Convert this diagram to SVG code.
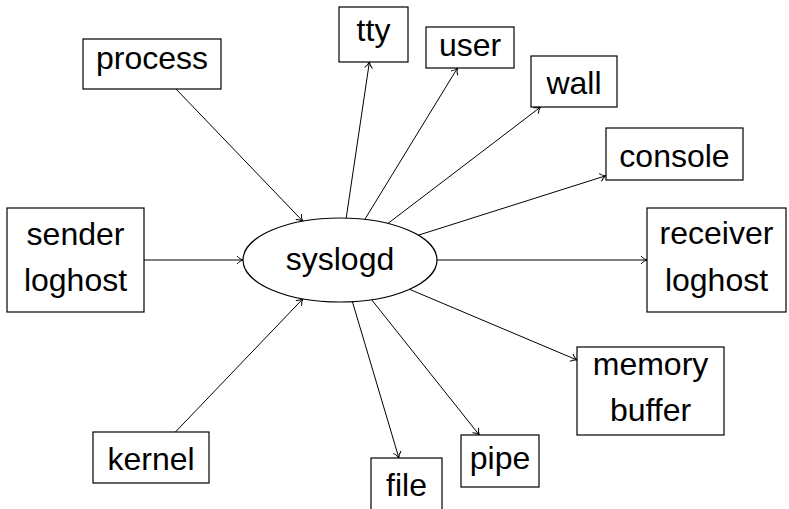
<svg xmlns="http://www.w3.org/2000/svg" width="789" height="509" viewBox="0 0 789 509">
<defs>
<style>
.box{fill:#fff;stroke:#000;stroke-width:1.2}
.t{font-family:"Liberation Sans",Arial,sans-serif;font-size:32px;fill:#000;text-anchor:middle}
.e{stroke:#000;stroke-width:1;fill:none;marker-end:url(#arr)}
</style>
<marker id="arr" viewBox="-8 -6 10 12" refX="0" refY="0" markerWidth="10" markerHeight="12" orient="auto" markerUnits="userSpaceOnUse" overflow="visible">
<path d="M-6,-4 C-4,-1.5 -1,-0.3 0,0 C-1,0.3 -4,1.5 -6,4" fill="none" stroke="#000" stroke-width="1"/>
</marker>
</defs>
<rect width="789" height="509" fill="#fff"/>
<g id="connectors">
<line class="e" x1="176" y1="89" x2="302.8" y2="221.2"/>
<line class="e" x1="144" y1="260" x2="243" y2="260"/>
<line class="e" x1="175.4" y1="432" x2="302.9" y2="298.8"/>
<line class="e" x1="346.2" y1="218.1" x2="369.4" y2="62"/>
<line class="e" x1="364.8" y1="219.4" x2="457.5" y2="68"/>
<line class="e" x1="387.9" y1="223.5" x2="540.6" y2="107"/>
<line class="e" x1="418.3" y1="235.2" x2="606" y2="175.7"/>
<line class="e" x1="437" y1="260" x2="647" y2="260"/>
<line class="e" x1="409.5" y1="289.3" x2="577" y2="360"/>
<line class="e" x1="371.6" y1="299.7" x2="479.3" y2="435"/>
<line class="e" x1="352.4" y1="301.7" x2="398.9" y2="458"/>
</g>
<g id="syslogd">
<ellipse class="box" cx="340" cy="260" rx="97" ry="42"/>
<text class="t" x="340" y="270">syslogd</text>
</g>
<g id="process">
<rect class="box" x="83" y="39" width="138" height="50"/>
<text class="t" x="152" y="69">process</text>
</g>
<g id="tty">
<rect class="box" x="339" y="7" width="69" height="55"/>
<text class="t" x="373.5" y="41">tty</text>
</g>
<g id="user">
<rect class="box" x="426" y="27" width="88" height="41"/>
<text class="t" x="470" y="56">user</text>
</g>
<g id="wall">
<rect class="box" x="531" y="56" width="86" height="51"/>
<text class="t" x="574" y="94">wall</text>
</g>
<g id="console">
<rect class="box" x="606" y="128" width="137" height="52"/>
<text class="t" x="674.5" y="166.5">console</text>
</g>
<g id="sender">
<rect class="box" x="7" y="208" width="137" height="104"/>
<text class="t" x="75.5" y="245">sender</text>
<text class="t" x="75.5" y="291">loghost</text>
</g>
<g id="receiver">
<rect class="box" x="647" y="208" width="139" height="104"/>
<text class="t" x="716.5" y="244">receiver</text>
<text class="t" x="716.5" y="291">loghost</text>
</g>
<g id="memory">
<rect class="box" x="577" y="347" width="147" height="88"/>
<text class="t" x="650.5" y="375">memory</text>
<text class="t" x="650.5" y="421">buffer</text>
</g>
<g id="kernel">
<rect class="box" x="93" y="432" width="116" height="51"/>
<text class="t" x="151" y="470">kernel</text>
</g>
<g id="pipe">
<rect class="box" x="461" y="435" width="78" height="52"/>
<text class="t" x="500" y="468.5">pipe</text>
</g>
<g id="file">
<rect class="box" x="371" y="458" width="71" height="54"/>
<text class="t" x="406.5" y="496">file</text>
</g>
</svg>
